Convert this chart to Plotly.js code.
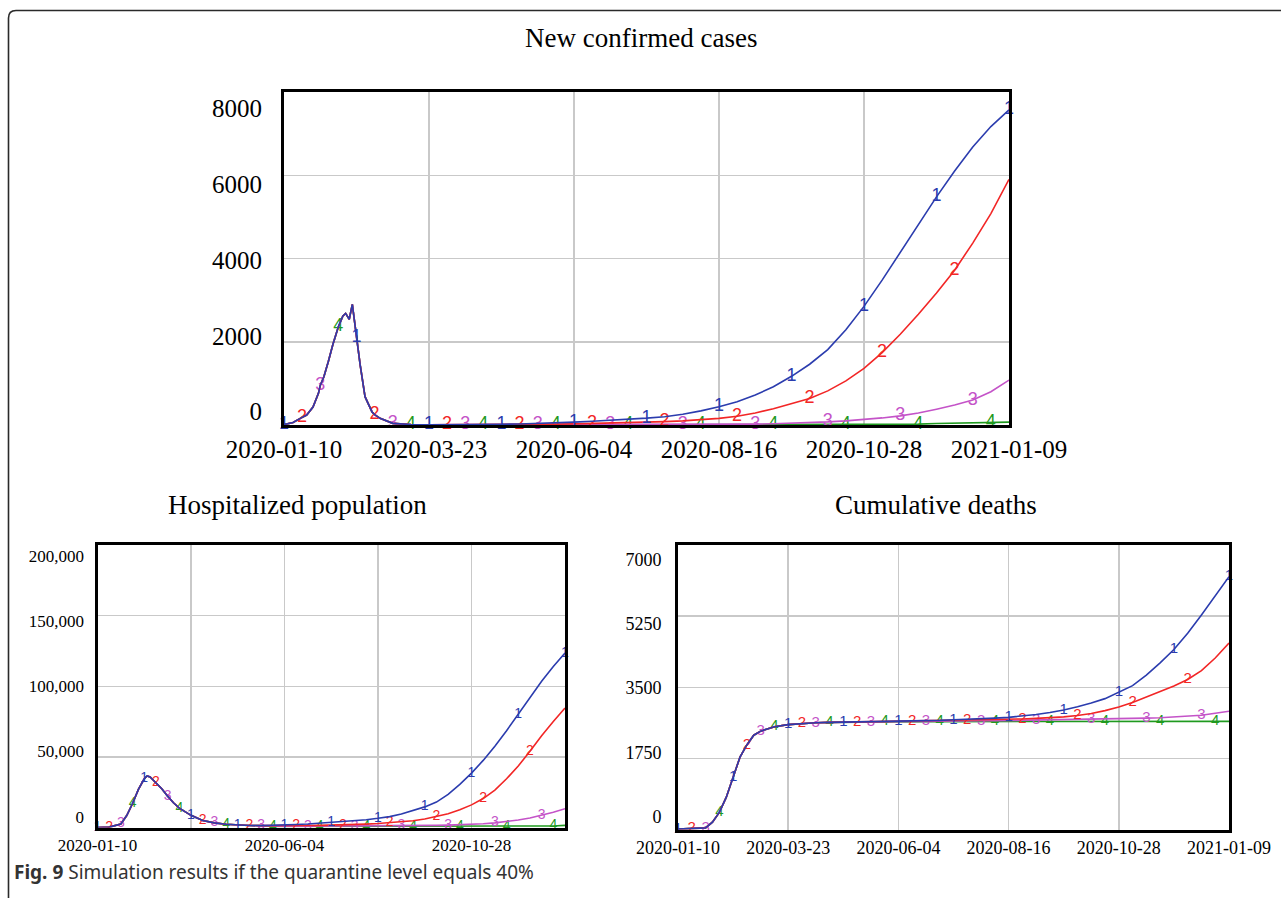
<!DOCTYPE html>
<html><head><meta charset="utf-8">
<script src="https://cdn.plot.ly/plotly-3.0.1.min.js"></script>
<style>html,body{margin:0;padding:0;background:#fff}</style>
</head><body><div id="chart" style="width:1281px;height:898px"></div>
<script>
// time axis: steps of 1/40 of the simulated year (2020-01-10 .. 2021-01-09)
const dateTicks = [0, 8, 16, 24, 32, 40];
const dateLabels = ['2020-01-10', '2020-03-23', '2020-06-04', '2020-08-16', '2020-10-28', '2021-01-09'];
const dateLabelsSparse = ['2020-01-10', '', '2020-06-04', '', '2020-10-28', ''];
const seriesNames = ['1', '2', '3', '4'];
const seriesColors = ['#2b3cae', '#f22626', '#c453c8', '#1f9a1f'];

// ---- New confirmed cases ----
const casesStep = [0,0.5,0.9,1,1.25,1.6,1.9,2,2.2,2.45,2.7,3,3.25,3.4,3.6,3.77,4,4.2,4.47,4.85,5,5.3,6,6.5,7,8,
  9,10,11,12,13,14,15,16,17,18,19,20,21,22,23,24,25,26,27,28,29,30,31,32,33,34,35,36,37,38,39,40];
const casesWave = [10,60,160,180,240,430,760,950,1160,1530,1940,2360,2620,2680,2540,2900,2100,1450,680,320,250,160,40,20,10,5];
const cases1Tail = [5,8,12,18,25,35,50,70,90,110,140,165,200,260,340,440,560,720,920,1170,1460,1810,2290,2850,3480,4150,4830,5480,6100,6680,7170,7570];
const cases2Tail = [5,6,8,10,14,18,22,28,35,42,50,60,80,100,130,160,210,290,390,510,635,820,1060,1360,1740,2180,2660,3170,3720,4370,5080,5900];
const cases3Tail = [5,5,5,5,5,5,5,5,5,5,5,5,8,10,12,14,16,20,30,40,55,75,100,130,170,220,290,380,480,600,800,1080];
const cases4Tail = [3,3,3,3,3,3,3,3,3,3,3,3,5,5,5,5,5,5,5,5,10,10,10,10,20,20,20,35,40,45,55,70];
const casesTicks = [0, 2000, 4000, 6000, 8000];
const casesTickText = ['0', '2000', '4000', '6000', '8000'];

// ---- Hospitalized population ----
const hospStep = [0,1,2,2.5,3,3.5,4,4.25,4.5,5,5.5,6,6.5,7,7.5,8,9,10,11,12,13,14,
  15,16,17,18,19,20,21,22,23,24,25,26,27,28,29,30,31,32,33,34,35,36,37,38,39,40];
const hospWave = [0,300,2500,8500,17000,27000,34500,36500,35800,32000,27500,22200,17500,13700,11000,8600,5000,3300,2300,1700,1400,1300];
const hosp1Tail = [1400,1700,2100,2500,3000,3500,4000,4700,5500,6500,7700,9500,11800,14600,18000,23500,30500,38500,47500,57500,68500,80000,92000,103500,114000,123500];
const hosp2Tail = [1200,1200,1300,1400,1500,1600,1700,2000,2400,2800,3300,3900,4800,6000,7800,9800,12500,16000,20500,26500,34500,43500,54000,65000,75000,84500];
const hosp3Tail = [1000,1000,1000,1000,1000,1000,1000,1000,1000,1000,1100,1200,1300,1400,1500,1700,1900,2200,2700,3300,4200,5300,6700,8500,10800,13300];
const hosp4Tail = [700,700,700,700,700,700,700,700,700,700,700,700,700,700,700,700,700,700,700,700,700,700,800,900,1100,1500];
const hospTicks = [0, 50000, 100000, 150000, 200000];
const hospTickText = ['0', '50,000', '100,000', '150,000', '200,000'];

// ---- Cumulative deaths ----
const deathStep = [0,1,2,2.5,3,3.5,4,4.5,5,5.5,6,7,8,9,10,11,12,13,14,15,16,17,
  18,19,20,21,22,23,24,25,26,27,28,29,30,31,32,33,34,35,36,37,38,39,40];
const deathWave = [10,20,40,180,420,790,1290,1780,2080,2320,2420,2530,2580,2610,2625,2635,2640,2645,2650,2655,2660,2665];
const death1Tail = [2675,2685,2700,2710,2725,2740,2760,2790,2830,2880,2940,3020,3110,3220,3370,3540,3800,4100,4430,4830,5280,5760,6220];
const death2Tail = [2670,2675,2680,2685,2690,2700,2710,2720,2735,2750,2770,2805,2855,2925,3015,3125,3255,3395,3530,3690,3910,4220,4590];
const death3Tail = [2665,2665,2670,2670,2675,2675,2680,2680,2685,2690,2695,2700,2705,2710,2720,2730,2740,2750,2765,2780,2810,2860,2910];
const death4Tail = [2655,2655,2655,2655,2655,2655,2655,2655,2655,2655,2655,2655,2655,2660,2660,2660,2660,2660,2660,2660,2660,2660,2660];
const deathTicks = [0, 1750, 3500, 5250, 7000];
const deathTickText = ['0', '1750', '3500', '5250', '7000'];

// ---------------- layout helpers (pixel geometry) ----------------
const W = 1281, H = 898;
const fx = p => p / W, fy = p => 1 - p / H;
const SERIF = 'Liberation Serif, Times New Roman, serif';
const SANS = 'Liberation Sans, Arial, sans-serif';

const traces = [];
function addChart(xa, ya, steps, series, fontSize) {
  for (let k = series.length - 1; k >= 0; k--) {
    const text = steps.map(s => (Number.isInteger(s) && s % 4 === k) ? seriesNames[k] : '');
    traces.push({
      x: steps, y: series[k], xaxis: xa, yaxis: ya,
      mode: 'lines+text', text: text, textposition: 'middle center',
      textfont: {family: SANS, size: fontSize, color: seriesColors[k]},
      line: {color: seriesColors[k], width: 1.6},
      cliponaxis: false, hoverinfo: 'skip', showlegend: false
    });
  }
}
addChart('x', 'y', casesStep, [casesWave.concat(cases1Tail), casesWave.concat(cases2Tail), casesWave.concat(cases3Tail), casesWave.concat(cases4Tail)], 18);
addChart('x2', 'y2', hospStep, [hospWave.concat(hosp1Tail), hospWave.concat(hosp2Tail), hospWave.concat(hosp3Tail), hospWave.concat(hosp4Tail)], 14);
addChart('x3', 'y3', deathStep, [deathWave.concat(death1Tail), deathWave.concat(death2Tail), deathWave.concat(death3Tail), deathWave.concat(death4Tail)], 15);
// empty traces so the label-only axes are created
['y4', 'y5', 'y6'].forEach((ya, i) => traces.push({x: [], y: [], xaxis: ['x', 'x2', 'x3'][i], yaxis: ya, type: 'scatter', hoverinfo: 'skip', showlegend: false}));

function xAxis(px0, px1, anchor, ticktext, size, ticklen) {
  return {domain: [fx(px0), fx(px1)], anchor: anchor, range: [0, 40], fixedrange: true,
    tickvals: dateTicks, ticktext: ticktext, tickfont: {family: SERIF, size: size, color: '#000'},
    ticks: ticklen > 0 ? 'outside' : '', ticklen: ticklen, tickcolor: 'rgba(0,0,0,0)',
    showgrid: true, gridcolor: '#c9c9c9', gridwidth: 1.5, zeroline: false,
    showline: true, mirror: true, linecolor: '#000', linewidth: 3};
}
function yAxis(py0, py1, anchor, max, ticks) {
  return {domain: [fy(py1), fy(py0)], anchor: anchor, range: [0, max], fixedrange: true,
    tickvals: ticks, showticklabels: false, ticks: '',
    showgrid: true, gridcolor: '#c9c9c9', gridwidth: 1.5, zeroline: false,
    showline: true, mirror: true, linecolor: '#000', linewidth: 3};
}
function labelAxis(over, anchor, range, ticks, text, size, standoff) {
  return {overlaying: over, anchor: anchor, side: 'left', range: range, fixedrange: true,
    tickvals: ticks, ticktext: text, tickfont: {family: SERIF, size: size, color: '#000'},
    ticks: 'outside', ticklen: standoff, tickcolor: 'rgba(0,0,0,0)',
    showgrid: false, zeroline: false, showline: false};
}

const layout = {
  width: W, height: H, autosize: false,
  margin: {l: 0, r: 0, t: 0, b: 0, pad: 0},
  paper_bgcolor: '#fff', plot_bgcolor: '#fff',
  hovermode: false, showlegend: false,
  xaxis: xAxis(284, 1009, 'y', dateLabels, 25, 0),
  yaxis: yAxis(92, 425, 'x', 8000, casesTicks),
  xaxis2: xAxis(97.5, 565, 'y2', dateLabelsSparse, 17, 0),
  yaxis2: yAxis(545, 827.5, 'x2', 200000, hospTicks),
  xaxis3: xAxis(678, 1229, 'y3', dateLabels, 18, 0),
  yaxis3: yAxis(545, 829.5, 'x3', 7000, deathTicks),
  yaxis4: labelAxis('y', 'x', [-351, 8422], casesTicks, casesTickText, 25, 16),
  yaxis5: labelAxis('y2', 'x2', [-8285, 208440], hospTicks, hospTickText, 17, 9),
  yaxis6: labelAxis('y3', 'x3', [-354, 7401], deathTicks, deathTickText, 18, 12),
  annotations: [
    {text: 'New confirmed cases', x: fx(641), y: fy(38), xref: 'paper', yref: 'paper', xanchor: 'center', yanchor: 'middle', showarrow: false, font: {family: SERIF, size: 27, color: '#000'}},
    {text: 'Hospitalized population', x: fx(297), y: fy(505), xref: 'paper', yref: 'paper', xanchor: 'center', yanchor: 'middle', showarrow: false, font: {family: SERIF, size: 27, color: '#000'}},
    {text: 'Cumulative deaths', x: fx(936), y: fy(505), xref: 'paper', yref: 'paper', xanchor: 'center', yanchor: 'middle', showarrow: false, font: {family: SERIF, size: 27, color: '#000'}},
    {text: '<b>Fig. 9</b> Simulation results if the quarantine level equals 40%', x: fx(12), y: fy(872), xref: 'paper', yref: 'paper', xanchor: 'left', yanchor: 'middle', showarrow: false, font: {family: 'Noto Sans, Open Sans, sans-serif', size: 19, color: '#333'}}
  ],
  shapes: [
    {type: 'path', xref: 'paper', yref: 'paper',
     path: `M ${fx(8.5)},${fy(898)} L ${fx(8.5)},${fy(18)} Q ${fx(8.5)},${fy(10.5)} ${fx(16)},${fy(10.5)} L ${fx(1281)},${fy(10.5)}`,
     line: {color: '#2a2a2a', width: 1.6}}
  ]
};

Plotly.newPlot('chart', traces, layout, {staticPlot: true, displayModeBar: false});
</script></body></html>
